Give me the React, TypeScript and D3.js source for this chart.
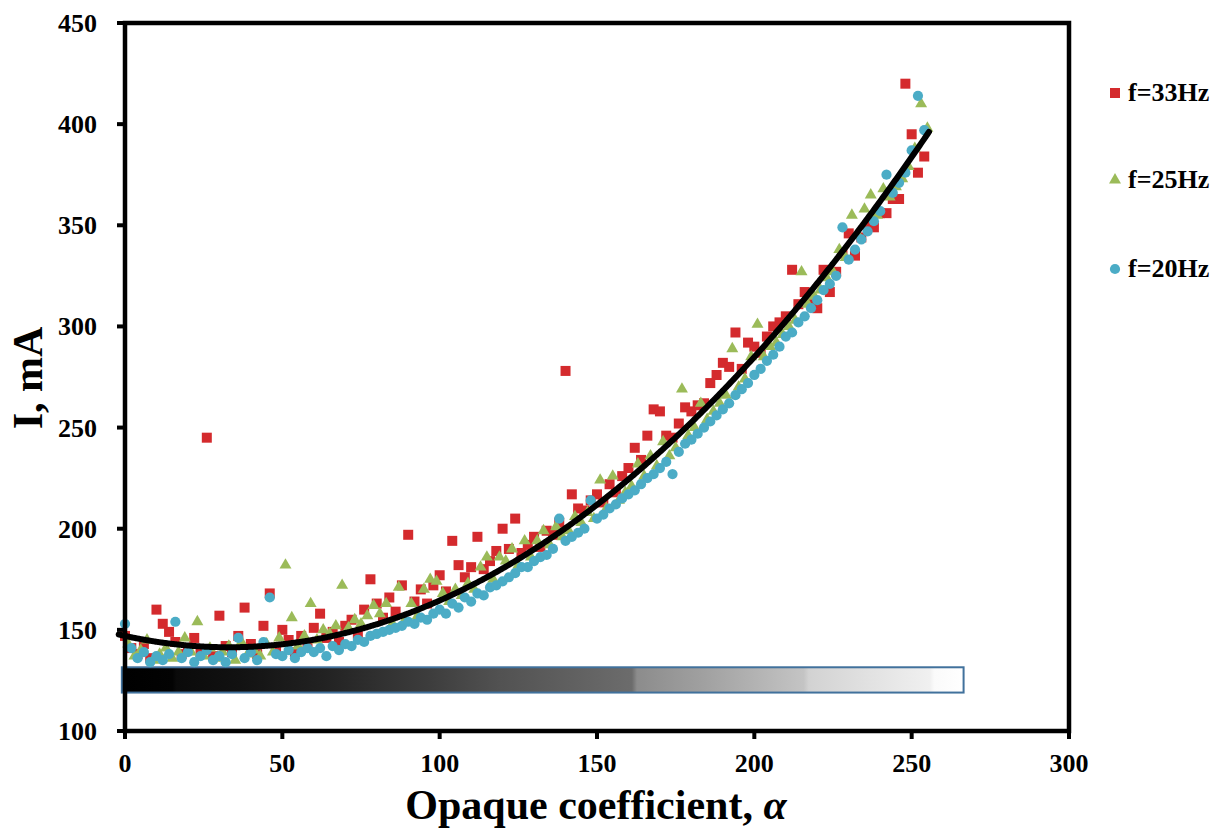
import React from "react";
import * as d3 from "d3";

// ---------- data ----------
const xTicks = [0, 50, 100, 150, 200, 250, 300];
const yTicks = [100, 150, 200, 250, 300, 350, 400, 450];

const alphaEven = [0,2,4,6,8,10,12,14,16,18,20,22,24,26,28,30,32,34,36,38,40,42,44,46,48,50,52,54,56,58,60,62,64,66,68,70,72,74,76,78,80,82,84,86,88,90,92,94,96,98,100,102,104,106,108,110,112,114,116,118,120,122,124,126,128,130,132,134,136,138,140,142,144,146,148,150,152,154,156,158,160,162,164,166,168,170,172,174,176,178,180,182,184,186,188,190,192,194,196,198,200,202,204,206,208,210,212,214,216,218,220,222,224,226,228,230,232,234,236,238,240,242,244,246,248,250,252,254];
const alphaOdd = [1,3,5,7,9,11,13,15,17,19,21,23,25,27,29,31,33,35,37,39,41,43,45,47,49,51,53,55,57,59,61,63,65,67,69,71,73,75,77,79,81,83,85,87,89,91,93,95,97,99,101,103,105,107,109,111,113,115,117,119,121,123,125,127,129,131,133,135,137,139,141,143,145,147,149,151,153,155,157,159,161,163,165,167,169,171,173,175,177,179,181,183,185,187,189,191,193,195,197,199,201,203,205,207,209,211,213,215,217,219,221,223,225,227,229,231,233,235,237,239,241,243,245,247,249,251,253,255];

// f = 33 Hz (at alphaEven)
const current33 = [
  147, 141, 138, 143, 136, 160, 153, 149, 144, 138,
  140, 146, 139, 245, 137, 157, 142, 139, 147, 161,
  143, 138, 152, 168, 141, 150, 145, 139, 147, 143,
  151, 158, 146, 149, 144, 152, 155, 148, 160, 175,
  163, 156, 166, 159, 172, 197, 164, 170, 163, 172,
  177, 169, 194, 182, 176, 181, 196, 180, 184, 189,
  200, 190, 205, 188, 192, 196, 191, 199, 197, 203,
  278, 217, 210, 209, 214, 217, 213, 222, 218, 226,
  230, 240, 234, 246, 259, 258, 246, 245, 252, 260,
  258, 261, 262, 272, 276, 282, 280, 297, 279, 292,
  290, 287, 295, 300, 302, 305, 328, 311, 317, 311,
  309, 328, 317, 327, 336, 346, 335, 344, 350, 349,
  356, 356, 363, 363, 420, 395, 376, 384,
];

// f = 25 Hz (at alphaOdd)
const current25 = [
  143, 137, 140, 145, 135, 138, 141, 136, 139, 146,
  139, 154, 137, 141, 136, 139, 142, 135, 144, 138,
  140, 137, 143, 139, 146, 182, 156, 142, 147, 163,
  145, 150, 148, 152, 172, 151, 155, 153, 157, 162,
  158, 163, 153, 171, 155, 163, 157, 170, 175, 174,
  168, 164, 170, 167, 173, 170, 181, 186, 175, 186,
  184, 190, 182, 194, 186, 194, 199, 192, 201, 196,
  199, 206, 203, 208, 205, 224, 210, 226, 214, 218,
  221, 232, 226, 236, 231, 243, 236, 240, 269, 246,
  250, 262, 254, 258, 262, 266, 289, 270, 274, 285,
  301, 285, 290, 292, 296, 300, 303, 327, 311, 315,
  318, 324, 327, 338, 334, 355, 345, 358, 365, 355,
  368, 364, 369, 373, 379, 388, 410, 398,
];

// f = 20 Hz (at alphaEven)
const current20 = [
  153, 141, 136, 139, 134, 137, 135, 138, 154, 136,
  139, 134, 137, 140, 135, 137, 134, 138, 146, 136,
  139, 135, 144, 166, 138, 137, 140, 136, 139, 141,
  139, 141, 137, 142, 140, 143, 142, 145, 144, 147,
  148, 149, 150, 151, 152, 154, 153, 156, 155, 158,
  160, 158, 163, 161, 166, 164, 168, 167, 171, 172,
  174, 176, 178, 181, 181, 184, 186, 187, 190, 205,
  194, 196, 198, 200, 214, 205, 207, 210, 212, 215,
  217, 219, 222, 225, 227, 230, 233, 227, 238, 242,
  244, 247, 250, 253, 256, 259, 262, 266, 269, 272,
  276, 279, 283, 286, 290, 295, 297, 302, 305, 309,
  313, 318, 321, 325, 349, 333, 338, 343, 347, 352,
  357, 375, 366, 371, 376, 387, 414, 397,
];

// polynomial trend line: c0 + c1*a + c2*a^2
const fitCoefficients = [147, -0.3396, 0.005146];
const fitRange = [-2, 255.5];

// grayscale opacity bar
const barAlphaRange = [-1, 266.5];
const barCurrentRange = [119, 131.5];
const barStops: [number, number][] = [
  [0, 0], [0.06, 3], [0.065, 10], [0.14, 18], [0.24, 34], [0.37, 62], [0.45, 82],
  [0.606, 108], [0.612, 140], [0.69, 160], [0.81, 196], [0.816, 210], [0.89, 226],
  [0.96, 240], [0.965, 250], [1, 255],
];

const series = [
  { name: "f=33Hz", alpha: alphaEven, values: current33, color: "#D42A2D", shape: "square" },
  { name: "f=25Hz", alpha: alphaOdd, values: current25, color: "#9BBB59", shape: "triangle" },
  { name: "f=20Hz", alpha: alphaEven, values: current20, color: "#4BACC6", shape: "circle" },
];

const FONT = "'Liberation Serif', 'Times New Roman', serif";

export default function App() {
  const x = d3.scaleLinear().domain([0, 300]).range([125, 1069]);
  const y = d3.scaleLinear().domain([100, 450]).range([731, 23]);

  const shapes: Record<string, string> = {
    square: d3.symbol().type(d3.symbolSquare).size(100)() as string,
    triangle: d3.symbol().type(d3.symbolTriangle).size(62)() as string,
    circle: d3.symbol().type(d3.symbolCircle).size(82)() as string,
  };

  const poly = (a: number) =>
    fitCoefficients[0] + fitCoefficients[1] * a + fitCoefficients[2] * a * a;
  const fitPts = d3.range(fitRange[0], fitRange[1] + 0.001, 0.5);
  const fitPath = d3
    .line<number>()
    .x((a) => x(a))
    .y((a) => y(poly(a)))
    .curve(d3.curveMonotoneX)(fitPts) as string;

  const legendY = [93, 180, 269];

  return (
    <div style={{ position: "fixed", left: 0, top: 0 }}>
      <svg width={1226} height={829} style={{ display: "block", background: "#fff" }}>
        <defs>
          <linearGradient id="opaqueGrad" x1="0" x2="1" y1="0" y2="0">
            {barStops.map(([o, g], i) => (
              <stop key={i} offset={o} stopColor={d3.rgb(g, g, g).formatHex()} />
            ))}
          </linearGradient>
        </defs>

        {/* opacity bar */}
        <rect
          x={x(barAlphaRange[0])}
          y={y(barCurrentRange[1])}
          width={x(barAlphaRange[1]) - x(barAlphaRange[0])}
          height={y(barCurrentRange[0]) - y(barCurrentRange[1])}
          fill="url(#opaqueGrad)"
          stroke="#41719C"
          strokeWidth={2}
        />

        {/* data points */}
        {series.map((s) => (
          <g key={s.name} fill={s.color}>
            {s.values.map((v, i) => (
              <path key={i} d={shapes[s.shape]} transform={`translate(${x(s.alpha[i])},${y(v)})`} />
            ))}
          </g>
        ))}

        {/* fit line */}
        <path d={fitPath} fill="none" stroke="#000" strokeWidth={6} strokeLinecap="round" />

        {/* frame */}
        <rect x={x(0)} y={y(450)} width={x(300) - x(0)} height={y(100) - y(450)} fill="none" stroke="#000" strokeWidth={4.5} />

        {/* y ticks */}
        {yTicks.map((t) => (
          <g key={t}>
            <line x1={x(0) - 8} x2={x(0)} y1={y(t)} y2={y(t)} stroke="#000" strokeWidth={4} />
            <text x={97} y={y(t) + 9} textAnchor="end" fontFamily={FONT} fontWeight="bold" fontSize={26} fill="#000">
              {t}
            </text>
          </g>
        ))}

        {/* x ticks */}
        {xTicks.map((t) => (
          <g key={t}>
            <line x1={x(t)} x2={x(t)} y1={y(100)} y2={y(100) + 8} stroke="#000" strokeWidth={4} />
            <text x={x(t)} y={772} textAnchor="middle" fontFamily={FONT} fontWeight="bold" fontSize={26} fill="#000">
              {t}
            </text>
          </g>
        ))}

        {/* axis titles */}
        <text x={596} y={819} textAnchor="middle" fontFamily={FONT} fontWeight="bold" fontSize={42} fill="#000">
          Opaque coefficient, <tspan fontStyle="italic">α</tspan>
        </text>
        <text
          transform="translate(42,378) rotate(-90)"
          textAnchor="middle"
          fontFamily={FONT}
          fontWeight="bold"
          fontSize={42}
          fill="#000"
        >
          I, mA
        </text>

        {/* legend */}
        {series.map((s, i) => (
          <g key={s.name}>
            <path d={shapes[s.shape]} fill={s.color} transform={`translate(1115,${legendY[i]})`} />
            <text x={1128} y={legendY[i] + 8} fontFamily={FONT} fontWeight="bold" fontSize={26} fill="#000">
              {s.name}
            </text>
          </g>
        ))}
      </svg>
    </div>
  );
}
